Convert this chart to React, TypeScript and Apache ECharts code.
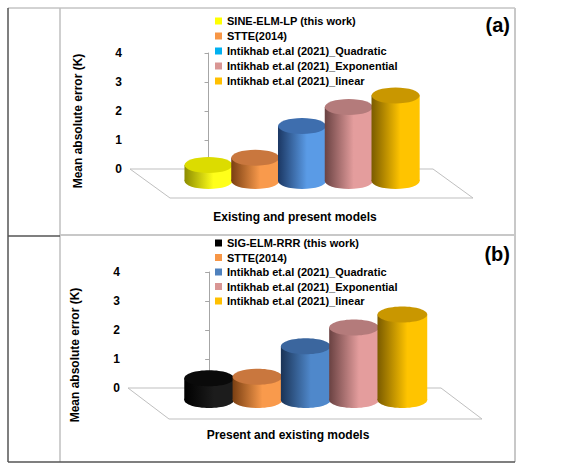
import React, { useEffect, useRef } from 'react';
import * as echarts from 'echarts';

// panel (a)
const modelsA = [
  'SINE-ELM-LP (this work)',
  'STTE(2014)',
  'Intikhab et.al (2021)_Quadratic',
  'Intikhab et.al (2021)_Exponential',
  'Intikhab et.al (2021)_linear',
];
const maeA = [0.55, 0.8, 1.9, 2.55, 2.95];
const keyColorsA = ['#ffff00', '#f79646', '#00b0f0', '#d99694', '#ffc000'];
// dark edge, lit face, lid
const shadesA = [
  ['#8c8c00', '#ffff1a', '#dcdc00'],
  ['#7a3f12', '#f99a4c', '#c9773e'],
  ['#1b3763', '#5a9be6', '#3e6eae'],
  ['#6a4242', '#e49d9d', '#b47b7b'],
  ['#7a5b00', '#ffc400', '#c99700'],
];

// panel (b)
const modelsB = [
  'SIG-ELM-RRR (this work)',
  'STTE(2014)',
  'Intikhab et.al (2021)_Quadratic',
  'Intikhab et.al (2021)_Exponential',
  'Intikhab et.al (2021)_linear',
];
const maeB = [0.75, 0.8, 1.85, 2.5, 2.95];
const keyColorsB = ['#000000', '#f79646', '#4f81bd', '#d99694', '#ffc000'];
const shadesB = [
  ['#000000', '#1c1c1c', '#0a0a0a'],
  ['#7a3f12', '#f99a4c', '#c9773e'],
  ['#1a3356', '#4f88cb', '#3b669e'],
  ['#6a4242', '#e49d9d', '#b47b7b'],
  ['#7a5b00', '#ffc400', '#c99700'],
];

const FONT = "'Liberation Sans Narrow', 'Liberation Sans', Arial, sans-serif";
const LIFT = 12; // cylinders stand this far in front of the back wall
const RY = 8;

function cylinder(shade: string[]) {
  return (params: any, api: any) => {
    const i = api.value(0);
    const base = api.coord([i, 0]);
    const top = api.coord([i, api.value(1)]);
    const rx = api.size([1, 0])[0] * 0.515;
    const cx = base[0];
    const by = base[1] + LIFT;
    const ty = top[1] + LIFT;
    const side = () =>
      new echarts.graphic.LinearGradient(0, 0, 1, 0, [
        { offset: 0, color: shade[0] },
        { offset: 0.6, color: shade[1] },
        { offset: 1, color: shade[1] },
      ]);
    return {
      type: 'group',
      children: [
        { type: 'ellipse', shape: { cx, cy: by, rx, ry: RY }, style: { fill: side() } },
        { type: 'rect', shape: { x: cx - rx, y: ty, width: rx * 2, height: by - ty }, style: { fill: side() } },
        { type: 'ellipse', shape: { cx, cy: ty, rx, ry: RY }, style: { fill: shade[2] } },
      ],
    };
  };
}

function floor(dx: number, dy: number) {
  return (params: any, api: any) => {
    const cs = params.coordSys;
    const y0 = api.coord([0, 0])[1];
    const l = cs.x;
    const r = cs.x + cs.width;
    return {
      type: 'polygon',
      shape: { points: [[l, y0], [r, y0], [r + dx, y0 + dy], [l + dx, y0 + dy]] },
      style: { fill: '#ffffff', stroke: '#bfbfbf', lineWidth: 1 },
    };
  };
}

function panelSeries(idx: number, models: string[], mae: number[], keys: string[], shades: string[][], dx: number, dy: number) {
  return [
    {
      type: 'custom',
      name: 'floor' + idx,
      xAxisIndex: idx,
      yAxisIndex: idx,
      clip: false,
      silent: true,
      z: 1,
      renderItem: floor(dx, dy),
      data: [[0, 0]],
    },
    ...models.map((name, i) => ({
      type: 'custom',
      name,
      xAxisIndex: idx,
      yAxisIndex: idx,
      clip: false,
      z: 2,
      itemStyle: { color: keys[i] },
      renderItem: cylinder(shades[i]),
      encode: { x: 0, y: 1 },
      data: [[i, mae[i]]],
    })),
  ];
}

const yAxisBase = {
  type: 'value',
  min: 0,
  max: 4,
  interval: 1,
  axisLine: { show: true, lineStyle: { color: '#a6a6a6' } },
  axisTick: { show: true, length: 4, lineStyle: { color: '#a6a6a6' } },
  splitLine: { show: false },
  axisLabel: { color: '#000', fontWeight: 'bold', fontSize: 12, fontFamily: FONT, margin: 8 },
};

const legendBase = {
  orient: 'vertical',
  left: 215,
  itemWidth: 7,
  itemHeight: 7,
  icon: 'rect',
  padding: 0,
  selectedMode: false,
  textStyle: { color: '#000', fontWeight: 'bold', fontSize: 11, fontFamily: FONT, lineHeight: 12 },
};

const label = (text: string, x: number, y: number, size: number, rot = 0, align = 'center') => ({
  type: 'text',
  x,
  y,
  rotation: rot,
  style: { text, fill: '#000', fontWeight: 'bold', fontSize: size, fontFamily: FONT, align, verticalAlign: 'middle' },
});

const line = (x1: number, y1: number, x2: number, y2: number, color: string, w: number) => ({
  type: 'line',
  shape: { x1, y1, x2, y2 },
  style: { stroke: color, lineWidth: w },
});

const App: React.FC = () => {
  const chartRef = useRef<HTMLDivElement>(null);

  useEffect(() => {
    const chart = echarts.init(chartRef.current!, undefined, { renderer: 'svg' });

    const option = {
      animation: false,
      grid: [
        { left: 130, top: 53, width: 303, height: 116 },
        { left: 128, top: 272, width: 313, height: 116 },
      ],
      xAxis: [
        { gridIndex: 0, type: 'value', min: -1.68, max: 4.8, show: false },
        { gridIndex: 1, type: 'value', min: -1.68, max: 4.8, show: false },
      ],
      yAxis: [
        { ...yAxisBase, gridIndex: 0 },
        { ...yAxisBase, gridIndex: 1 },
      ],
      legend: [
        { ...legendBase, top: 15, itemGap: 3, data: modelsA.map((name, i) => ({ name, itemStyle: { color: keyColorsA[i] } })) },
        { ...legendBase, top: 237, itemGap: 2.5, data: modelsB.map((name, i) => ({ name, itemStyle: { color: keyColorsB[i] } })) },
      ],
      graphic: [
        // table borders
        line(8, 8, 515, 8, '#a6a6a6', 1),
        line(515, 8, 515, 462, '#c8c8c8', 2),
        line(60, 8, 60, 462, '#bfbfbf', 1.5),
        line(60, 235, 515, 235, '#c8c8c8', 2),
        line(8, 236, 60, 236, '#555555', 1.5),
        line(8, 8, 8, 462, '#555555', 1.5),
        line(8, 462, 515, 462, '#555555', 1.5),
        // titles
        label('Mean absolute error (K)', 78, 121, 12, Math.PI / 2),
        label('Existing and present models', 295, 217, 12),
        label('(a)', 510, 25, 20, 0, 'right'),
        label('Mean absolute error (K)', 75, 355, 12, Math.PI / 2),
        label('Present and existing models', 288, 435, 12),
        label('(b)', 510, 254, 20, 0, 'right'),
      ],
      series: [
        ...panelSeries(0, modelsA, maeA, keyColorsA, shadesA, 40, 29),
        ...panelSeries(1, modelsB, maeB, keyColorsB, shadesB, 41, 31),
      ],
    };

    chart.setOption(option as any);

    return () => {
      chart.dispose();
    };
  }, []);

  return (
    <div
      ref={chartRef}
      style={{ position: 'absolute', left: 0, top: 0, width: '579px', height: '470px' }}
    />
  );
};

export default App;
